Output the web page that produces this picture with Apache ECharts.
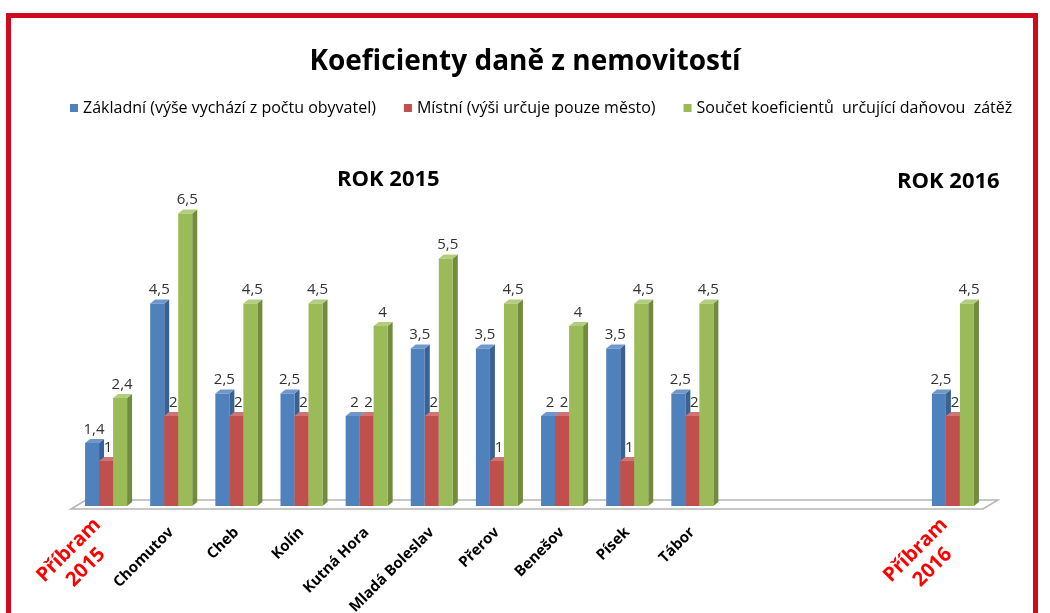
<!DOCTYPE html>
<html>
<head>
<meta charset="utf-8">
<title>Koeficienty daně z nemovitostí</title>
<script src="https://cdn.jsdelivr.net/npm/echarts@6/dist/echarts.min.js"></script>
<style>
  html, body { margin: 0; padding: 0; background: #fff; }
  #chart { width: 1050px; height: 613px; }
</style>
</head>
<body>
<div id="chart"></div>
<script>
  // kategorie (3 prázdné mezery mezi Táborem a Příbramí 2016)
  const categories = ['Příbram\n2015', 'Chomutov', 'Cheb', 'Kolín', 'Kutná Hora', 'Mladá Boleslav',
    'Přerov', 'Benešov', 'Písek', 'Tábor', '', '', '', 'Příbram\n2016']
  const zakladni = [1.4, 4.5, 2.5, 2.5, 2, 3.5, 3.5, 2, 3.5, 2.5, null, null, null, 2.5]
  const mistni = [1, 2, 2, 2, 2, 2, 1, 2, 1, 2, null, null, null, 2]
  const soucet = [2.4, 6.5, 4.5, 4.5, 4, 5.5, 4.5, 4, 4.5, 4.5, null, null, null, 4.5]
  const seriesNames = ['Základní (výše vychází z počtu obyvatel)', 'Místní (výši určuje pouze město)',
    'Součet koeficientů  určující daňovou  zátěž']

  const font = '"Open Sans", "Noto Sans", sans-serif'
  const colors = [
    { front: '#4f81bd', side: '#3a6192', top: '#6f97c9' },
    { front: '#c0504d', side: '#923b39', top: '#cf7573' },
    { front: '#9bbb59', side: '#728c3f', top: '#b3cd7e' }
  ]

  function toData(arr) {
    return arr.map((v, i) => [i, v]).filter(d => d[1] !== null)
  }

  // 3D sloupec: přední stěna, boční stěna, horní plocha + popisek
  function render3d(offset, c) {
    return function(params, api) {
      const cat = api.value(0)
      const val = api.value(1)
      const top = api.coord([cat, val])
      const base = api.coord([cat, 0])
      const band = api.size([1, 0])[0]
      const bw = band * 0.215
      const x0 = top[0] + offset * bw - bw / 2
      const dx = 5, dy = 4
      return {
        type: 'group',
        children: [
          { type: 'polygon', shape: { points: [[x0 + bw, top[1]], [x0 + bw + dx, top[1] - dy], [x0 + bw + dx, base[1] - dy], [x0 + bw, base[1]]] }, style: { fill: c.side } },
          { type: 'polygon', shape: { points: [[x0, top[1]], [x0 + dx, top[1] - dy], [x0 + bw + dx, top[1] - dy], [x0 + bw, top[1]]] }, style: { fill: c.top } },
          { type: 'rect', shape: { x: x0, y: top[1], width: bw, height: base[1] - top[1] }, style: { fill: c.front } },
          {
            type: 'text',
            style: {
              text: String(val).replace('.', ','),
              x: x0 + bw / 2 + 2, y: top[1] - 6,
              textAlign: 'center', textVerticalAlign: 'bottom',
              fill: '#333', font: '15px ' + font
            },
            z2: 10
          }
        ]
      }
    }
  }

  const chart = echarts.init(document.getElementById('chart'))
  chart.setOption({
    backgroundColor: '#fff',
    animation: false,
    title: {
      text: 'Koeficienty daně z nemovitostí',
      left: 'center',
      top: 43,
      textStyle: { fontFamily: font, fontSize: 28, fontWeight: 'bold', color: '#000' }
    },
    legend: {
      left: 65,
      top: 95,
      icon: 'rect',
      itemWidth: 8,
      itemHeight: 8,
      itemGap: 28,
      textStyle: { fontFamily: font, fontSize: 16, color: '#000' },
      data: seriesNames.map((n, i) => ({ name: n, itemStyle: { color: colors[i].front } }))
    },
    grid: { left: 73.5, right: 64.5, top: 191, bottom: 107, outerBoundsMode: 'none', containLabel: false },
    xAxis: {
      type: 'category',
      data: categories,
      axisLine: { show: false },
      axisTick: { show: false },
      axisLabel: {
        interval: 0,
        rotate: 45,
        margin: 24,
        fontFamily: font,
        fontSize: 15,
        fontWeight: 'bold',
        color: '#000',
        formatter: v => v.indexOf('\n') >= 0 ? v.split('\n').map(s => '{red|' + s + '}').join('\n') : v,
        rich: {
          red: { color: '#ff0000', fontSize: 20, fontWeight: 'bold', fontFamily: font, lineHeight: 24, align: 'center' }
        }
      }
    },
    yAxis: {
      type: 'value',
      min: 0,
      max: 7,
      show: false
    },
    graphic: [
      {
        type: 'rect',
        shape: { x: 8.5, y: 15.5, width: 1027, height: 700 },
        style: { fill: null, stroke: '#cf0a1f', lineWidth: 5 },
        z: 100
      },
      {
        type: 'polygon',
        shape: { points: [[71, 509], [983, 509], [998, 500], [86, 500]] },
        style: { fill: '#fff', stroke: '#b5b5b5', lineWidth: 1.5 },
        z: -1
      },
      {
        type: 'text', left: 337, top: 169,
        style: { text: 'ROK 2015', fill: '#000', font: 'bold 22px ' + font }
      },
      {
        type: 'text', left: 897, top: 171,
        style: { text: 'ROK 2016', fill: '#000', font: 'bold 22px ' + font }
      }
    ],
    series: [zakladni, mistni, soucet].map((arr, i) => ({
      name: seriesNames[i],
      type: 'custom',
      itemStyle: { color: colors[i].front },
      renderItem: render3d(i - 1, colors[i]),
      encode: { x: 0, y: 1 },
      data: toData(arr)
    }))
  })
</script>
</body>
</html>
